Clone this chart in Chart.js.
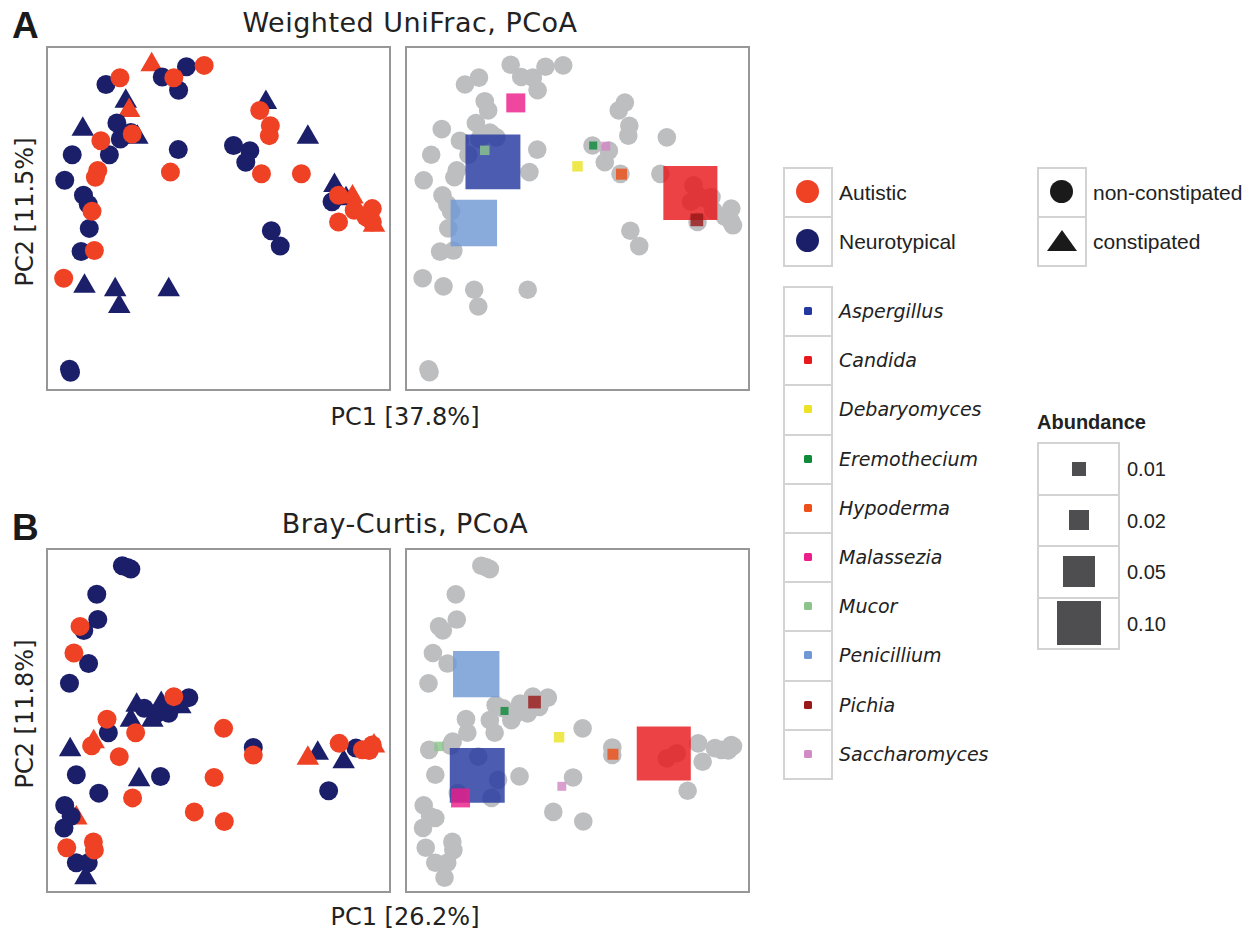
<!DOCTYPE html>
<html>
<head>
<meta charset="utf-8">
<script src="https://cdn.jsdelivr.net/npm/chart.js@4.4.1/dist/chart.umd.min.js"></script>
<style>
  body { margin: 0; background: #fff; }
  #page { position: relative; width: 1255px; height: 932px; overflow: hidden; font-family: "DejaVu Sans", sans-serif; color: #222; }
  .abs { position: absolute; white-space: nowrap; line-height: 1; }
  .panel { position: absolute; width: 345px; height: 345px; box-sizing: border-box; border: 2px solid #979797; }
  .panel canvas { display: block; }
  .title { font-size: 27px; letter-spacing: 0.5px; text-align: center; width: 600px; }
  .axis { font-size: 24px; text-align: center; width: 400px; }
  .letter { font-family: "Liberation Sans", sans-serif; font-weight: bold; font-size: 37px; color: #1a1a1a; }
  .box { position: absolute; box-sizing: border-box; border: 2px solid #d3d3d3; }
  .lg { font-family: "Liberation Sans", sans-serif; font-size: 21px; }
  .genus { font-size: 19px; font-style: italic; }
</style>
</head>
<body>
<div id="page">
  <div class="abs letter" style="left:12px; top:7px;">A</div>
  <div class="abs letter" style="left:12px; top:509px;">B</div>
  <div class="abs title" style="left:110px; top:9px;">Weighted UniFrac, PCoA</div>
  <div class="abs title" style="left:105px; top:510px;">Bray-Curtis, PCoA</div>
  <div class="abs axis" style="left:205px; top:405px;">PC1 [37.8%]</div>
  <div class="abs axis" style="left:205px; top:905px;">PC1 [26.2%]</div>
  <div class="abs axis" style="left:25px; top:212px; transform:translate(-50%,-50%) rotate(-90deg);">PC2 [11.5%]</div>
  <div class="abs axis" style="left:25px; top:714px; transform:translate(-50%,-50%) rotate(-90deg);">PC2 [11.8%]</div>

  <div class="panel" style="left:46px; top:46px;"><canvas id="aLeft" width="341" height="341"></canvas></div>
  <div class="panel" style="left:405px; top:46px;"><canvas id="aRight" width="341" height="341"></canvas></div>
  <div class="panel" style="left:46px; top:548px;"><canvas id="bLeft" width="341" height="341"></canvas></div>
  <div class="panel" style="left:405px; top:548px;"><canvas id="bRight" width="341" height="341"></canvas></div>

  <div id="legends"></div>
</div>

<script>
// sample positions, in percent of the plot frame (x = PC1, y = PC2)
const A_AUT_CIRCLE = [[21.1,91.3],[36.9,91.3],[45.8,94.9],[15.5,72.8],[14.6,64.1],[13.9,62.1],[12.9,52.1],[13.6,40.6],[4.6,32.5],[35.9,63.6],[62.1,81.7],[65.2,77.2],[64.9,74.3],[62.6,63.1],[74.3,63.1],[85.2,56.8],[85.2,49.0],[89.8,52.4],[95.1,52.9],[93.2,50.5],[95.1,49.0],[24.7,74.8]];
const A_AUT_TRI = [[30.4,95.1],[23.8,81.7],[89.3,56.3],[95.6,48.0]];
const A_NT_CIRCLE = [[17.0,89.3],[33.5,91.5],[40.6,94.5],[38.3,87.6],[20.2,78.0],[21.2,73.3],[24.3,75.2],[7.1,68.7],[18.0,68.7],[38.2,70.2],[4.9,61.2],[10.4,56.8],[11.8,54.2],[12.1,47.1],[9.7,40.3],[54.4,71.4],[59.2,69.9],[58.0,66.5],[65.5,46.4],[68.1,41.9],[83.3,54.9],[6.3,5.8],[6.6,4.9]];
const A_NT_TRI = [[22.8,84.4],[10.2,76.2],[26.2,73.8],[63.9,84.0],[76.2,73.8],[84.0,59.7],[10.7,30.1],[19.7,29.1],[20.9,24.2],[35.4,29.1],[87.4,55.8]];

const B_AUT_CIRCLE = [[9.4,77.6],[7.6,69.8],[17.3,50.4],[25.7,46.4],[12.8,42.6],[20.9,39.4],[24.8,27.3],[36.9,57.0],[51.5,47.7],[48.7,33.3],[42.9,23.2],[51.7,20.4],[60.2,39.9],[85.4,43.3],[92.2,41.4],[94.2,41.2],[95.1,42.8],[5.5,12.7],[13.3,14.4],[13.6,12.0]];
const B_AUT_TRI = [[13.4,43.8],[76.2,38.9],[95.6,42.5],[8.3,21.4]];
const B_NT_CIRCLE = [[21.8,95.4],[23.3,94.9],[24.3,94.4],[14.3,87.0],[14.6,79.6],[10.5,76.4],[11.9,66.7],[6.3,60.9],[41.3,56.7],[35.4,52.1],[28.2,53.6],[32.0,52.1],[17.7,46.4],[8.3,34.1],[14.9,28.7],[33.0,33.6],[60.2,42.1],[82.3,29.4],[90.3,41.9],[4.9,25.1],[6.8,21.9],[4.7,18.5],[8.3,8.3],[11.8,8.3]];
const B_NT_TRI = [[26.0,54.5],[24.3,50.1],[30.6,50.1],[33.2,55.0],[38.8,54.0],[6.5,41.4],[26.7,32.6],[79.1,40.4],[86.7,37.9],[11.0,3.9]];

// taxa for the biplots
const GENERA = ['Aspergillus','Candida','Debaryomyces','Eremothecium','Hypoderma','Malassezia','Mucor','Penicillium','Pichia','Saccharomyces'];
const GENUS_COLORS = ['#2438a0','#e8181c','#ece324','#0f8a3a','#ee5018','#ec1e8a','#8cc48c','#6f98d4','#9a1a1a','#d28ac4'];
const ABUNDANCE = [0.154,0.149,0.0056,0.0033,0.0062,0.0184,0.0046,0.110,0.0082,0.0041];
const A_TAXA = [[25.2,66.6],[83.1,57.5],[50.0,65.3],[54.6,71.4],[62.9,63.0],[31.9,83.9],[22.8,70.0],[19.6,48.7],[85.0,49.6],[58.3,71.2]];
const B_TAXA = [[20.6,33.9],[75.3,40.3],[44.6,45.1],[28.6,52.8],[60.4,40.1],[15.7,27.3],[9.4,42.4],[20.3,63.6],[37.4,55.4],[45.4,30.7]];
const ABUNDANCE_KEYS = [0.01, 0.02, 0.05, 0.10];

const GROUPS = ['Autistic', 'Neurotypical'];
const SHAPES = ['non-constipated', 'constipated'];

const ORANGE = '#ef4124';
const NAVY = '#1b1f6a';
const GREY = '#bdbec0';

const toXY = (pts) => pts.map(([x, y]) => ({ x, y }));
const squareSide = (a) => 140 * Math.sqrt(a);

function rgba(hex, alpha) {
    const n = parseInt(hex.slice(1), 16);
    return `rgba(${(n >> 16) & 255},${(n >> 8) & 255},${n & 255},${alpha})`;
}

function sampleSets(autC, autT, ntC, ntT) {
    const base = { pointBorderWidth: 0, borderWidth: 0, clip: false };
    // lower order is drawn on top
    return [
        { ...base, data: toXY(autC), pointStyle: 'circle', pointRadius: 9.5, pointBackgroundColor: ORANGE, order: 1 },
        { ...base, data: toXY(ntC), pointStyle: 'circle', pointRadius: 9.5, pointBackgroundColor: NAVY, order: 2 },
        { ...base, data: toXY(autT), pointStyle: 'triangle', pointRadius: 13, pointBackgroundColor: ORANGE, order: 3 },
        { ...base, data: toXY(ntT), pointStyle: 'triangle', pointRadius: 13, pointBackgroundColor: NAVY, order: 4 },
    ];
}

function biplotSets(samples, taxa) {
    // big squares first so the small ones stay visible on top
    const idx = GENERA.map((_, i) => i).sort((a, b) => ABUNDANCE[b] - ABUNDANCE[a]);
    return [
        {
            data: idx.map((i) => ({ x: taxa[i][0], y: taxa[i][1] })),
            pointStyle: 'rect',
            pointRadius: idx.map((i) => squareSide(ABUNDANCE[i]) / Math.SQRT2),
            pointBackgroundColor: idx.map((i) => rgba(GENUS_COLORS[i], 0.82)),
            pointBorderWidth: 0, borderWidth: 0, clip: false, order: 0,
        },
        {
            data: toXY(samples), pointStyle: 'circle', pointRadius: 9.3,
            pointBackgroundColor: GREY, pointBorderWidth: 0, borderWidth: 0, clip: false, order: 1,
        },
    ];
}

function makeChart(id, datasets) {
    return new Chart(document.getElementById(id), {
        type: 'scatter',
        data: { datasets },
        options: {
            responsive: false,
            animation: false,
            devicePixelRatio: 1,
            events: [],
            layout: { padding: 0, autoPadding: false },
            plugins: { legend: { display: false }, tooltip: { enabled: false } },
            scales: {
                x: { type: 'linear', min: 0, max: 100, display: false },
                y: { type: 'linear', min: 0, max: 100, display: false },
            },
        },
    });
}

makeChart('aLeft', sampleSets(A_AUT_CIRCLE, A_AUT_TRI, A_NT_CIRCLE, A_NT_TRI));
makeChart('bLeft', sampleSets(B_AUT_CIRCLE, B_AUT_TRI, B_NT_CIRCLE, B_NT_TRI));
makeChart('aRight', biplotSets([...A_AUT_CIRCLE, ...A_AUT_TRI, ...A_NT_CIRCLE, ...A_NT_TRI], A_TAXA));
makeChart('bRight', biplotSets([...B_AUT_CIRCLE, ...B_AUT_TRI, ...B_NT_CIRCLE, ...B_NT_TRI], B_TAXA));

// legends
const legends = document.getElementById('legends');
function add(html) { legends.insertAdjacentHTML('beforeend', html); }
function box(left, top, w, h) { add(`<div class="box" style="left:${left}px;top:${top}px;width:${w}px;height:${h}px"></div>`); }

GROUPS.forEach((g, i) => {
    const top = 167 + i * 49;
    box(783, top, 50, 51);
    add(`<div class="abs" style="left:796px;top:${top + 13}px;width:23px;height:23px;border-radius:50%;background:${i ? NAVY : ORANGE}"></div>`);
    add(`<div class="abs lg" style="left:839px;top:${top + 15}px">${g}</div>`);
});

SHAPES.forEach((s, i) => {
    const top = 167 + i * 49;
    box(1037, top, 50, 51);
    if (i === 0) {
        add(`<div class="abs" style="left:1050px;top:${top + 13}px;width:23px;height:23px;border-radius:50%;background:#1a1a1a"></div>`);
    } else {
        add(`<div class="abs" style="left:1047px;top:${top + 14}px;width:0;height:0;border-left:15px solid transparent;border-right:15px solid transparent;border-bottom:21px solid #1a1a1a"></div>`);
    }
    add(`<div class="abs lg" style="left:1093px;top:${top + 15}px">${s}</div>`);
});

GENERA.forEach((g, i) => {
    const top = 286 + i * 49.2;
    box(783, top, 50, 51.2);
    add(`<div class="abs" style="left:804px;top:${top + 21}px;width:8px;height:8px;border-radius:1.5px;background:${GENUS_COLORS[i]}"></div>`);
    add(`<div class="abs genus" style="left:839px;top:${top + 16}px">${g}</div>`);
});

add(`<div class="abs lg" style="left:1037px;top:412px;font-size:20px;font-weight:bold">Abundance</div>`);
ABUNDANCE_KEYS.forEach((a, i) => {
    const top = 442 + i * 51.5;
    const s = squareSide(a);
    box(1037, top, 83, 53.5);
    add(`<div class="abs" style="left:${1079 - s / 2}px;top:${top + 26.5 - s / 2}px;width:${s}px;height:${s}px;background:#4e4e50"></div>`);
    add(`<div class="abs lg" style="left:1127px;top:${top + 17}px;font-size:20px">${a.toFixed(2)}</div>`);
});
</script>
</body>
</html>
